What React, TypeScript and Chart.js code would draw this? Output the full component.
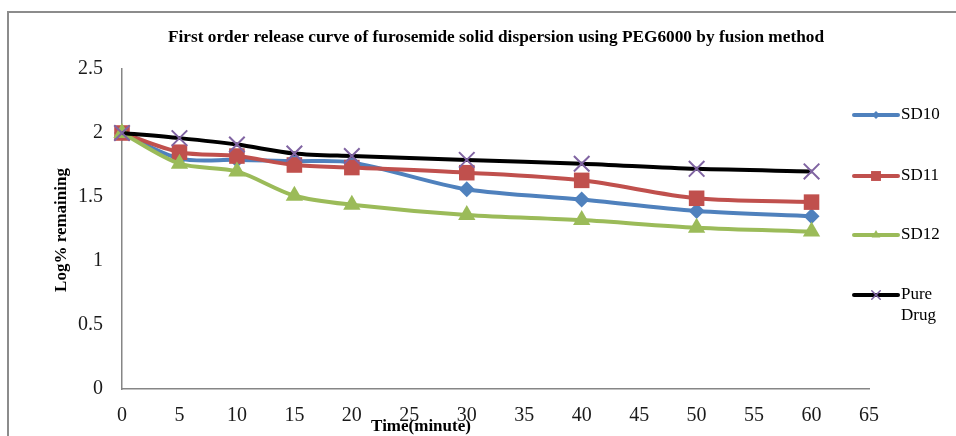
import { useEffect, useRef } from "react";
import { Chart, registerables } from "chart.js";

Chart.register(...registerables);

// Sampling times (minutes) and log % drug remaining for each formulation
const timeMinutes = [0, 5, 10, 15, 20, 30, 40, 50, 60];
const sd10 = [2.0, 1.8, 1.79, 1.78, 1.77, 1.56, 1.48, 1.39, 1.35];
const sd11 = [2.0, 1.85, 1.82, 1.75, 1.73, 1.69, 1.63, 1.49, 1.46];
const sd12 = [2.0, 1.76, 1.7, 1.51, 1.44, 1.36, 1.32, 1.26, 1.23];
const pureDrug = [2.0, 1.96, 1.91, 1.84, 1.82, 1.79, 1.76, 1.72, 1.7];

const xRange = { min: 0, max: 65, step: 5 };
const yRange = { min: 0, max: 2.5, step: 0.5 };

const chartTitle =
  "First order release curve of furosemide solid dispersion using PEG6000 by fusion method";
const xTitle = "Time(minute)";
const yTitle = "Log% remaining";

const SERIF = "'Liberation Serif', 'Times New Roman', serif";

type MarkerStyle = "rectRot" | "rect" | "triangle" | "crossRot";

interface Series {
  label: string[];
  values: number[];
  color: string;
  marker: MarkerStyle;
  markerColor: string;
  radius: number;
  legendRadius: number;
}

const series: Series[] = [
  { label: ["SD10"], values: sd10, color: "#4F81BD", marker: "rectRot", markerColor: "#4F81BD", radius: 8, legendRadius: 4 },
  { label: ["SD11"], values: sd11, color: "#C0504D", marker: "rect", markerColor: "#C0504D", radius: 11, legendRadius: 7 },
  { label: ["SD12"], values: sd12, color: "#9BBB59", marker: "triangle", markerColor: "#9BBB59", radius: 10, legendRadius: 5 },
  { label: ["Pure", "Drug"], values: pureDrug, color: "#000000", marker: "crossRot", markerColor: "#8064A2", radius: 11, legendRadius: 6 },
];

function drawMarker(
  ctx: CanvasRenderingContext2D,
  style: MarkerStyle,
  x: number,
  y: number,
  r: number,
  color: string
) {
  ctx.save();
  ctx.fillStyle = color;
  ctx.strokeStyle = color;
  ctx.beginPath();
  if (style === "rectRot") {
    ctx.moveTo(x, y - r);
    ctx.lineTo(x + r, y);
    ctx.lineTo(x, y + r);
    ctx.lineTo(x - r, y);
    ctx.closePath();
    ctx.fill();
  } else if (style === "rect") {
    const s = r * Math.SQRT1_2;
    ctx.rect(x - s, y - s, 2 * s, 2 * s);
    ctx.fill();
  } else if (style === "triangle") {
    for (let i = 0; i < 3; i++) {
      const a = (i * 2 * Math.PI) / 3;
      const px = x + Math.sin(a) * r;
      const py = y - Math.cos(a) * r;
      if (i === 0) ctx.moveTo(px, py);
      else ctx.lineTo(px, py);
    }
    ctx.closePath();
    ctx.fill();
  } else {
    const d = r * Math.SQRT1_2;
    ctx.lineWidth = 1.5;
    ctx.moveTo(x - d, y - d);
    ctx.lineTo(x + d, y + d);
    ctx.moveTo(x + d, y - d);
    ctx.lineTo(x - d, y + d);
    ctx.stroke();
  }
  ctx.restore();
}

// Frame, titles and the right-hand legend
const decorations = {
  id: "decorations",
  afterDraw(chart: Chart) {
    const ctx = chart.ctx;
    ctx.save();

    // outer frame (top and left edges)
    ctx.strokeStyle = "#8c8c8c";
    ctx.lineWidth = 2;
    ctx.beginPath();
    ctx.moveTo(956, 12);
    ctx.lineTo(8, 12);
    ctx.lineTo(8, 436);
    ctx.stroke();

    ctx.fillStyle = "#000";
    ctx.textAlign = "center";
    ctx.textBaseline = "middle";
    ctx.font = `bold 17.3px ${SERIF}`;
    ctx.fillText(chartTitle, 496, 38);

    ctx.font = `bold 17px ${SERIF}`;
    ctx.fillText(xTitle, 421, 427);

    ctx.save();
    ctx.translate(62, 230);
    ctx.rotate(-Math.PI / 2);
    ctx.fillText(yTitle, 0, 0);
    ctx.restore();

    // legend
    const rows = [115, 176, 235, 295];
    ctx.font = `17px ${SERIF}`;
    ctx.textAlign = "left";
    series.forEach((s, i) => {
      const y = rows[i];
      ctx.strokeStyle = s.color;
      ctx.lineWidth = 4;
      ctx.lineCap = "round";
      ctx.beginPath();
      ctx.moveTo(854, y);
      ctx.lineTo(898, y);
      ctx.stroke();
      drawMarker(ctx, s.marker, 876, y, s.legendRadius, s.markerColor);
      ctx.fillStyle = "#000";
      s.label.forEach((t, j) => ctx.fillText(t, 901, y + j * 21));
    });

    ctx.restore();
  },
};

export default function App() {
  const canvasRef = useRef<HTMLCanvasElement | null>(null);

  useEffect(() => {
    const canvas = canvasRef.current;
    if (!canvas) return;

    const datasets = series.map((s, i) => ({
      label: s.label.join(" "),
      data: timeMinutes.map((t, k) => ({ x: t, y: s.values[k] })),
      borderColor: s.color,
      backgroundColor: s.markerColor,
      borderWidth: 4,
      tension: 0.3,
      pointStyle: s.marker,
      pointRadius: s.radius,
      pointBackgroundColor: s.markerColor,
      pointBorderColor: s.markerColor,
      pointBorderWidth: s.marker === "crossRot" ? 2 : 0,
      clip: false as const,
      order: series.length - 1 - i,
    }));

    const chart = new Chart(canvas, {
      type: "line",
      data: { datasets },
      options: {
        animation: false,
        responsive: false,
        layout: { padding: { left: 0, top: 69, right: 87, bottom: 0 } },
        plugins: {
          legend: { display: false },
          title: { display: false },
          tooltip: { enabled: false },
        },
        scales: {
          x: {
            type: "linear",
            min: xRange.min,
            max: xRange.max,
            afterFit: (scale: any) => {
              scale.height = 47;
            },
            grid: { display: false, drawTicks: false },
            border: { display: true, color: "#868686", width: 1.5 },
            ticks: {
              stepSize: xRange.step,
              padding: 15,
              color: "#1a1a1a",
              font: { family: SERIF, size: 20 },
              maxRotation: 0,
              callback: (v: any) => String(v),
            },
          },
          y: {
            type: "linear",
            min: yRange.min,
            max: yRange.max,
            afterFit: (scale: any) => {
              scale.width = 122;
            },
            grid: { display: false, drawTicks: false },
            border: { display: true, color: "#868686", width: 1.5 },
            ticks: {
              stepSize: yRange.step,
              padding: 19,
              color: "#1a1a1a",
              font: { family: SERIF, size: 20 },
              callback: (v: any) => String(v),
            },
          },
        },
      },
      plugins: [decorations],
    });

    return () => chart.destroy();
  }, []);

  return (
    <div style={{ position: "absolute", left: 0, top: 0, width: 956, height: 436, background: "#fff" }}>
      <canvas ref={canvasRef} width={956} height={436} />
    </div>
  );
}
